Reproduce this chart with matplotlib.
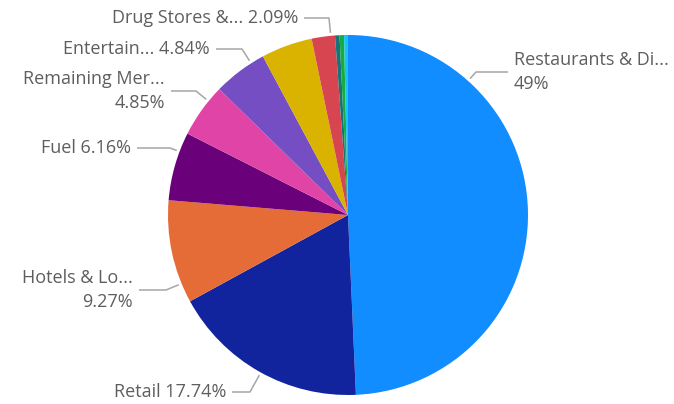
import numpy as np
import matplotlib.pyplot as plt

plt.rcParams['font.family'] = ['Open Sans', 'DejaVu Sans']

# slices, clockwise from 12 o'clock
categories = ['Restaurants & Dining', 'Retail', 'Hotels & Lodging', 'Fuel',
              'Remaining Merchants', 'Entertainment', 'Other Services',
              'Drug Stores & Pharmacies', 'Utilities', 'Travel', 'Other']
values = [49.3, 17.74, 9.27, 6.16, 4.85, 4.84, 4.6, 2.09, 0.4, 0.4, 0.35]
labels = ['Restaurants & Di...\n49%', 'Retail 17.74%', 'Hotels & Lo...\n9.27%',
          'Fuel 6.16%', 'Remaining Mer...\n4.85%', 'Entertain... 4.84%', None,
          'Drug Stores &... 2.09%', None, None, None]
colors = ['#118DFF', '#12239E', '#E66C37', '#6B007B', '#E044A7', '#744EC2',
          '#D9B300', '#D64550', '#197278', '#1AAB40', '#15C6F4']

W, H = 674, 404
cx, cy, R = 348, 215, 180

# label placement in pixels (x of text edge, y centre, alignment)
label_pos = {
    0: (514, 72, 'left'),
    1: (226, 392, 'right'),
    2: (133, 290, 'right'),
    3: (131, 148, 'right'),
    4: (165, 91, 'right'),
    5: (210, 49, 'right'),
    7: (298, 18, 'right'),
}
seg = {0: 32, 1: 18, 2: 27, 3: 33, 4: 25, 5: 26, 7: 25}


def fy(y):
    return H - y


def main():
    fig = plt.figure(figsize=(W / 100, H / 100), dpi=100)
    ax = fig.add_axes([0, 0, 1, 1])
    ax.pie(values, colors=colors, startangle=90, counterclock=False,
           center=(cx, fy(cy)), radius=R, wedgeprops=dict(linewidth=0))
    ax.set_xlim(0, W)
    ax.set_ylim(0, H)
    ax.set_aspect('equal')
    ax.axis('off')

    for i, (tx, ty, ha) in label_pos.items():
        d = 1 if ha == 'left' else -1
        end_x = tx - d * 6
        elb_x = end_x - d * seg[i]
        ex, ey = elb_x - cx, ty - cy
        r = np.hypot(ex, ey)
        ax_x = cx + ex / r * (R + 3)
        ax_y = cy + ey / r * (R + 3)
        ax.plot([ax_x, elb_x, end_x], [fy(ax_y), fy(ty), fy(ty)],
                color='#A6A6A6', lw=1.1, solid_capstyle='butt')
        ax.text(tx, fy(ty), labels[i], ha=ha, va='center', fontsize=13,
                color='#605E5C', linespacing=1.45,
                multialignment=ha)

    fig.savefig('out.png', dpi=100)


if __name__ == '__main__':
    main()
